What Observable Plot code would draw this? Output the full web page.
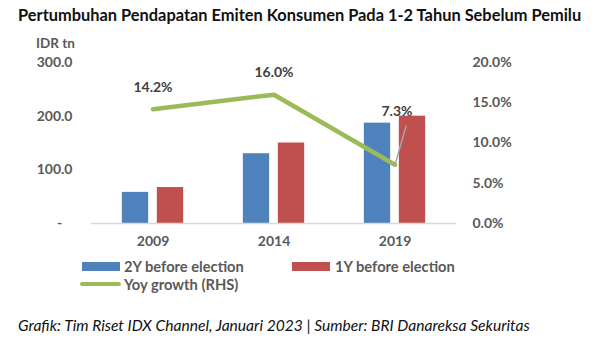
<!DOCTYPE html>
<html><head><meta charset="utf-8">
<script src="https://cdn.jsdelivr.net/npm/d3@7"></script>
<script src="https://cdn.jsdelivr.net/npm/@observablehq/plot@0.6"></script>
<style>
body{margin:0;background:#fff;font-family:Lato,"Open Sans",sans-serif;}
#wrap{position:relative;width:601px;height:353px;overflow:hidden;background:#fff;}
#title{position:absolute;left:18px;top:5px;font-weight:bold;font-size:16.4px;color:#111;white-space:nowrap;}
#unit{position:absolute;left:36px;top:37px;font-weight:bold;font-size:13.5px;line-height:13px;color:#595959;white-space:nowrap;}
#chart{position:absolute;left:0;top:30px;}
.lg{position:absolute;font-weight:bold;font-size:14.7px;color:#595959;white-space:nowrap;line-height:16px;}
.sw{position:absolute;}
#caption{position:absolute;left:18px;top:316px;font-style:italic;font-size:15.6px;color:#111;white-space:nowrap;}
</style></head>
<body>
<div id="wrap">
  <div id="title">Pertumbuhan Pendapatan Emiten Konsumen Pada 1-2 Tahun Sebelum Pemilu</div>
  <div id="chart"></div>
  <div id="unit">IDR tn</div>
  <div class="sw" style="left:82px;top:262px;width:38px;height:9px;background:#4f81bd"></div>
  <div class="lg" style="left:124px;top:258px">2Y before election</div>
  <div class="sw" style="left:292px;top:262px;width:38px;height:9px;background:#c0504d"></div>
  <div class="lg" style="left:335px;top:258px">1Y before election</div>
  <div class="sw" style="left:80px;top:282px;width:41px;height:4px;border-radius:2px;background:#9bbb59"></div>
  <div class="lg" style="left:124px;top:276px">Yoy growth (RHS)</div>
  <div id="caption">Grafik: Tim Riset IDX Channel, Januari 2023 | Sumber: BRI Danareksa Sekuritas</div>
</div>
<script>
const years = ["2009", "2014", "2019"];
const before2Y = [58, 130, 187];
const before1Y = [67, 150, 200];
const yoyGrowth = [14.2, 16.0, 7.3];
const leftTicks = [0, 100, 200, 300];
const rightTicks = [0, 5, 10, 15, 20];

const k = 300 / 20; // right axis (percent) to left axis (IDR tn)
const rows = years.map((y, i) => ({year: y, a: before2Y[i], b: before1Y[i], g: yoyGrowth[i]}));

const W = 601, H = 230, mL = 91, mR = 145;
const band = (W - mL - mR) / years.length;
const barW = 27, gap = 8;
const outer = band / 2 - gap / 2 - barW;

const tickFill = "#595959";
const plot = Plot.plot({
  width: W, height: H,
  marginLeft: mL, marginRight: mR, marginTop: 32, marginBottom: 37,
  style: {fontFamily: "Lato, 'Open Sans', sans-serif", fontSize: "14px", fontWeight: "bold", color: tickFill, background: "transparent"},
  x: {domain: years, padding: 0, label: null},
  y: {domain: [0, 300], label: null},
  marks: [
    Plot.axisX({tickSize: 0, tickPadding: 13, label: null, fill: tickFill, fontSize: 14}),
    Plot.axisY({ticks: leftTicks, tickSize: 0, tickPadding: 19, label: null, fill: tickFill, fontSize: 14,
      tickFormat: d => d === 0 ? "-\u00a0\u00a0\u00a0" : d3.format(".1f")(d)}),
    Plot.axisY({anchor: "right", ticks: rightTicks.map(v => v * k), tickSize: 0, tickPadding: 16, label: null,
      fill: tickFill, fontSize: 14, textAnchor: "start",
      tickFormat: d => d3.format(".1f")(d / k) + "%"}),
    Plot.barY(rows, {x: "year", y: "a", fill: "#4f81bd", insetLeft: outer, insetRight: band - outer - barW}),
    Plot.barY(rows, {x: "year", y: "b", fill: "#c0504d", insetLeft: band - outer - barW, insetRight: outer}),
    Plot.ruleY([0], {stroke: "#d9d9d9", strokeWidth: 1.5}),
    Plot.line(rows, {x: "year", y: d => d.g * k, stroke: "#9bbb59", strokeWidth: 4.5, strokeLinecap: "round", strokeLinejoin: "round"}),
    Plot.vector(rows.filter(d => d.year === "2019"), {x: "year", y: d => d.g * k, length: 40, rotate: 16, anchor: "start",
      stroke: "#a6a6a6", strokeWidth: 1.5,
      shape: {draw(ctx, l) { ctx.moveTo(0, 0); ctx.lineTo(0, -l); }}}),
    Plot.text(rows.filter(d => d.year !== "2019"), {x: "year", y: d => d.g * k, text: d => d3.format(".1f")(d.g) + "%",
      dy: -22, fill: "#404040", fontSize: 14, fontWeight: "bold"}),
    Plot.text(rows.filter(d => d.year === "2019"), {x: "year", y: d => d.g * k, text: d => d3.format(".1f")(d.g) + "%",
      dy: -53, dx: 2, fill: "#404040", fontSize: 14, fontWeight: "bold"})
  ]
});
document.getElementById("chart").appendChild(plot);
</script>
</body></html>
